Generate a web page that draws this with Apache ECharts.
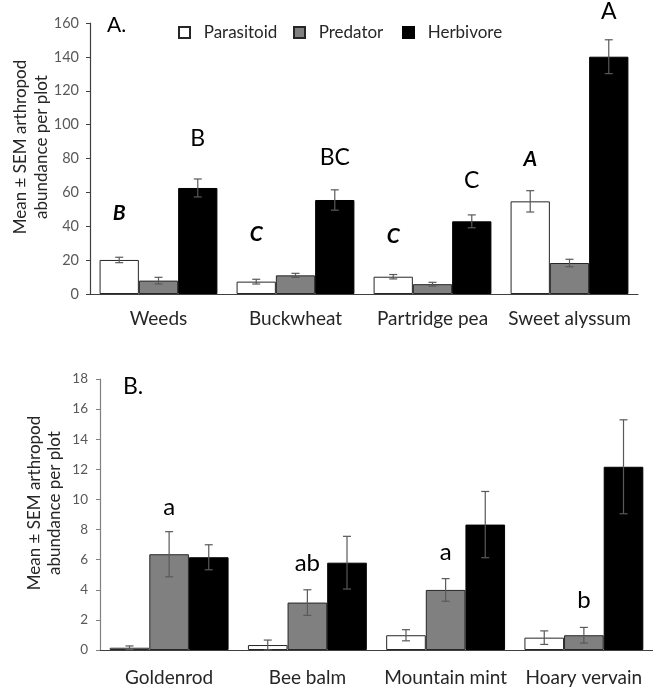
<!DOCTYPE html>
<html>
<head>
<meta charset="utf-8">
<script src="https://cdn.jsdelivr.net/npm/echarts@6/dist/echarts.min.js"></script>
<style>html,body{margin:0;padding:0;background:#fff;}#c{width:653px;height:687px;}</style>
</head>
<body>
<div id="c"></div>
<script>
// ---- Data (panel A) ----
const categoriesA = ['Weeds', 'Buckwheat', 'Partridge pea', 'Sweet alyssum'];
const parasitoidA = [20.1, 7.3, 10.2, 54.7];
const parasitoidErrA = [1.6, 1.4, 1.3, 6.3];
const predatorA = [7.9, 11.0, 5.8, 18.3];
const predatorErrA = [1.95, 1.2, 1.1, 2.2];
const herbivoreA = [62.6, 55.5, 42.9, 140.1];
const herbivoreErrA = [5.3, 6.0, 3.8, 10.0];
const lettersParaA = ['B', 'C', 'C', 'A'];
const lettersParaAtA = [47.4, 35.4, 34.4, 79.7];
const lettersHerbA = ['B', 'BC', 'C', 'A'];
const lettersHerbAtA = [91.7, 80.7, 66.9, 166.6];
const yTicksA = { min: 0, max: 160, interval: 20 };

// ---- Data (panel B) ----
const categoriesB = ['Goldenrod', 'Bee balm', 'Mountain mint', 'Hoary vervain'];
const parasitoidB = [0.15, 0.33, 0.98, 0.82];
const parasitoidErrB = [0.12, 0.33, 0.37, 0.45];
const predatorB = [6.36, 3.15, 3.99, 0.98];
const predatorErrB = [1.5, 0.85, 0.75, 0.52];
const herbivoreB = [6.16, 5.8, 8.33, 12.17];
const herbivoreErrB = [0.83, 1.75, 2.2, 3.12];
const lettersPredB = ['a', 'ab', 'a', 'b'];
const lettersPredAtB = [9.5, 5.74, 6.52, 3.3];
const yTicksB = { min: 0, max: 18, interval: 2 };

const seriesNames = ['Parasitoid', 'Predator', 'Herbivore'];
const FONT = 'Lato, "Open Sans", sans-serif';
const CAT_GAP = 0.14;

const barStyles = [
  { color: '#ffffff', borderColor: '#262626', borderWidth: 1 },
  { color: '#808080', borderColor: '#262626', borderWidth: 1 },
  { color: '#000000', borderColor: '#000000', borderWidth: 1 }
];

function bar(name, vals, idx, g) {
  return {
    name: name, type: 'bar', xAxisIndex: g, yAxisIndex: g,
    data: vals, barGap: '0%', barCategoryGap: (CAT_GAP * 100) + '%',
    itemStyle: barStyles[idx], emphasis: { disabled: true }, animation: false
  };
}

function errSeries(vals, errs, idx, g) {
  return {
    type: 'custom', xAxisIndex: g, yAxisIndex: g, z: 5, animation: false,
    data: vals.map((v, i) => [i, v, errs[i]]),
    renderItem: function (params, api) {
      const cat = api.value(0), v = api.value(1), e = api.value(2);
      const catW = api.size([1, 0])[0];
      const barW = catW * (1 - CAT_GAP) / 3;
      const cx = api.coord([cat, v])[0] + (idx - 1) * barW;
      const yT = api.coord([cat, v + e])[1];
      const yB = api.coord([cat, Math.max(0, v - e)])[1];
      const cap = 4;
      const st = { stroke: '#595959', lineWidth: 1.2 };
      return { type: 'group', children: [
        { type: 'line', shape: { x1: cx, y1: yT, x2: cx, y2: yB }, style: st },
        { type: 'line', shape: { x1: cx - cap, y1: yT, x2: cx + cap, y2: yT }, style: st },
        { type: 'line', shape: { x1: cx - cap, y1: yB, x2: cx + cap, y2: yB }, style: st }
      ]};
    }
  };
}

function letterSeries(letters, at, idx, g, font) {
  return {
    type: 'custom', xAxisIndex: g, yAxisIndex: g, z: 6, clip: false, animation: false,
    data: at.map((v, i) => [i, v]),
    renderItem: function (params, api) {
      const cat = api.value(0), v = api.value(1);
      const catW = api.size([1, 0])[0];
      const barW = catW * (1 - CAT_GAP) / 3;
      const p = api.coord([cat, v]);
      return {
        type: 'text', x: p[0] + (idx - 1) * barW, y: p[1],
        style: Object.assign({ text: letters[params.dataIndex], align: 'center', verticalAlign: 'middle', fill: '#000', fontFamily: FONT }, font)
      };
    }
  };
}

function legendItem(name, left) {
  return {
    data: [name], left: left, top: 19, itemWidth: 11, itemHeight: 11,
    icon: 'rect', selectedMode: false, formatter: '  {name}',
    textStyle: { fontSize: 17, color: '#262626', fontFamily: FONT }
  };
}

const chart = echarts.init(document.getElementById('c'), null, { renderer: 'canvas' });

const option = {
  backgroundColor: '#ffffff',
  animation: false,
  textStyle: { fontFamily: FONT },
  legend: [
    legendItem(seriesNames[0], 173),
    legendItem(seriesNames[1], 288),
    legendItem(seriesNames[2], 397)
  ],
  grid: [
    { left: 90, right: 15, top: 23, height: 271 },
    { left: 100, right: 0, top: 379, height: 271 }
  ],
  xAxis: [
    { type: 'category', gridIndex: 0, data: categoriesA,
      axisLine: { lineStyle: { color: '#404040', width: 1.2 } }, axisTick: { show: false },
      axisLabel: { interval: 0, hideOverlap: false, fontSize: 19, color: '#262626', margin: 15, fontFamily: FONT } },
    { type: 'category', gridIndex: 1, data: categoriesB,
      axisLine: { lineStyle: { color: '#404040', width: 1.2 } }, axisTick: { show: false },
      axisLabel: { interval: 0, hideOverlap: false, fontSize: 19, color: '#262626', margin: 18, fontFamily: FONT } }
  ],
  yAxis: [
    { type: 'value', gridIndex: 0, min: yTicksA.min, max: yTicksA.max, interval: yTicksA.interval,
      splitLine: { show: false },
      axisLine: { show: true, lineStyle: { color: '#404040', width: 1.2 } },
      axisTick: { show: true, length: 4, lineStyle: { color: '#404040' } },
      axisLabel: { fontSize: 14.5, color: '#595959', margin: 11, fontFamily: FONT } },
    { type: 'value', gridIndex: 1, min: yTicksB.min, max: yTicksB.max, interval: yTicksB.interval,
      splitLine: { show: false },
      axisLine: { show: true, lineStyle: { color: '#808080', width: 1.2 } },
      axisTick: { show: true, length: 4, lineStyle: { color: '#808080' } },
      axisLabel: { fontSize: 13.5, color: '#595959', margin: 12, fontFamily: FONT } }
  ],
  graphic: [
    { type: 'text', x: 31, y: 147, rotation: Math.PI / 2,
      style: { text: 'Mean ± SEM arthropod\nabundance per plot', align: 'center', verticalAlign: 'middle',
        fontSize: 17, lineHeight: 21, fill: '#262626', fontFamily: FONT } },
    { type: 'text', x: 45, y: 503, rotation: Math.PI / 2,
      style: { text: 'Mean ± SEM arthropod\nabundance per plot', align: 'center', verticalAlign: 'middle',
        fontSize: 17, lineHeight: 20, fill: '#262626', fontFamily: FONT } },
    { type: 'text', x: 107, y: 25, style: { text: 'A.', verticalAlign: 'middle', fontSize: 21, fill: '#000', fontFamily: FONT } },
    { type: 'text', x: 123, y: 387, style: { text: 'B.', verticalAlign: 'middle', fontSize: 23, fill: '#000', fontFamily: FONT } }
  ],
  series: [
    bar(seriesNames[0], parasitoidA, 0, 0),
    bar(seriesNames[1], predatorA, 1, 0),
    bar(seriesNames[2], herbivoreA, 2, 0),
    bar(seriesNames[0], parasitoidB, 0, 1),
    bar(seriesNames[1], predatorB, 1, 1),
    bar(seriesNames[2], herbivoreB, 2, 1),
    errSeries(parasitoidA, parasitoidErrA, 0, 0),
    errSeries(predatorA, predatorErrA, 1, 0),
    errSeries(herbivoreA, herbivoreErrA, 2, 0),
    errSeries(parasitoidB, parasitoidErrB, 0, 1),
    errSeries(predatorB, predatorErrB, 1, 1),
    errSeries(herbivoreB, herbivoreErrB, 2, 1),
    letterSeries(lettersParaA, lettersParaAtA, 0, 0, { fontSize: 21, fontWeight: 'bold', fontStyle: 'italic' }),
    letterSeries(lettersHerbA, lettersHerbAtA, 2, 0, { fontSize: 23 }),
    letterSeries(lettersPredB, lettersPredAtB, 1, 1, { fontSize: 24 })
  ]
};
chart.setOption(option);
</script>
</body>
</html>
